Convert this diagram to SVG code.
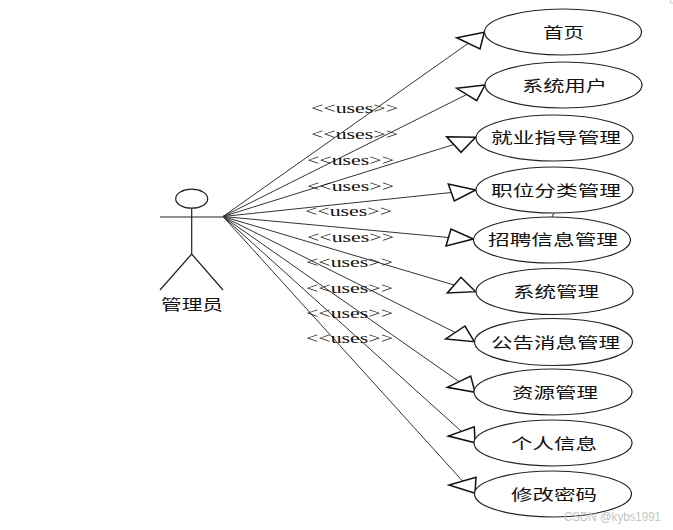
<svg xmlns="http://www.w3.org/2000/svg" width="673" height="530" viewBox="0 0 673 530">
<style>
.n{fill:#fff;stroke:#222;stroke-width:1.2}
.a{fill:none;stroke:#222;stroke-width:1.2}
.c{stroke:#333;stroke-width:1;fill:none}
.h{fill:#fff;stroke:#111;stroke-width:1.5;stroke-linejoin:miter}
.t{font-family:"Noto Sans CJK SC","Liberation Sans",sans-serif;font-size:15px;fill:#111}
.u{font-family:"Liberation Serif",serif;font-size:14px;fill:#111}
.w{font-family:"Liberation Sans",sans-serif;font-size:12px;fill:#c4c4c4}
</style>
<rect width="673" height="530" fill="#fff"/>
<g id="connectors">
<path class="c" d="M223 216.500L468.300 43.300M223 216.500L466.700 94.500M223 216.500L453.800 144.500M223 216.500L451.300 192.500M223 216.500L448.500 237.500M223 216.500L454 285M223 216.500L455.300 332.500M223 216.500L459 381.600M223 216.500L461.300 431.300M223 216.500L462.500 481"/>
<polygon class="h" points="484.300,32.300 456.700,37.700 480,49"/>
<polygon class="h" points="485,85 456.700,88.300 476.700,100.700"/>
<polygon class="h" points="475.700,137.300 446.700,136.700 461,152.300"/>
<polygon class="h" points="475.700,190 448.300,184 454.300,201"/>
<polygon class="h" points="473.300,239 451,229 446,246"/>
<polygon class="h" points="475.700,291.700 461,277.300 447.300,293"/>
<polygon class="h" points="474.300,341.700 465,326 445.700,339"/>
<polygon class="h" points="475,392.300 470.700,376 447.300,387.300"/>
<polygon class="h" points="475,442.700 474.300,426.700 448.300,436"/>
<polygon class="h" points="475,493.300 476,477.300 449,485"/>
<path class="c" d="M552 217L554 213"/>
<g class="u">
<text x="311" y="112.500" textLength="87" lengthAdjust="spacingAndGlyphs">&lt;&lt;uses&gt;&gt;</text>
<text x="311" y="138.500" textLength="87" lengthAdjust="spacingAndGlyphs">&lt;&lt;uses&gt;&gt;</text>
<text x="307" y="164.500" textLength="87" lengthAdjust="spacingAndGlyphs">&lt;&lt;uses&gt;&gt;</text>
<text x="307" y="190.500" textLength="87" lengthAdjust="spacingAndGlyphs">&lt;&lt;uses&gt;&gt;</text>
<text x="305" y="215.500" textLength="87" lengthAdjust="spacingAndGlyphs">&lt;&lt;uses&gt;&gt;</text>
<text x="307" y="241.500" textLength="87" lengthAdjust="spacingAndGlyphs">&lt;&lt;uses&gt;&gt;</text>
<text x="306" y="266.500" textLength="87" lengthAdjust="spacingAndGlyphs">&lt;&lt;uses&gt;&gt;</text>
<text x="306" y="292.500" textLength="87" lengthAdjust="spacingAndGlyphs">&lt;&lt;uses&gt;&gt;</text>
<text x="306" y="317.500" textLength="87" lengthAdjust="spacingAndGlyphs">&lt;&lt;uses&gt;&gt;</text>
<text x="306" y="342.500" textLength="87" lengthAdjust="spacingAndGlyphs">&lt;&lt;uses&gt;&gt;</text>
</g>
</g>
<g id="actor">
<ellipse class="a" cx="191.700" cy="198.700" rx="16" ry="9.500"/>
<path class="a" d="M160 217H223M191.700 208.200V254M191.700 254L160 290M191.700 254L223 290"/>
<text class="t" x="161" y="309.500" textLength="62" lengthAdjust="spacingAndGlyphs">管理员</text>
</g>
<g id="uc1"><ellipse class="n" cx="563" cy="32" rx="78.500" ry="23"/><text class="t" x="543" y="37.500" textLength="41" lengthAdjust="spacingAndGlyphs">首页</text></g>
<g id="uc2"><ellipse class="n" cx="563.500" cy="85" rx="78.500" ry="23"/><text class="t" x="522" y="90.500" textLength="85" lengthAdjust="spacingAndGlyphs">系统用户</text></g>
<g id="uc3"><ellipse class="n" cx="554.500" cy="138" rx="78.500" ry="23"/><text class="t" x="491" y="143" textLength="130" lengthAdjust="spacingAndGlyphs">就业指导管理</text></g>
<g id="uc4"><ellipse class="n" cx="554.500" cy="190" rx="78.500" ry="23"/><text class="t" x="491" y="195.500" textLength="130" lengthAdjust="spacingAndGlyphs">职位分类管理</text></g>
<g id="uc5"><ellipse class="n" cx="552" cy="240" rx="78.500" ry="23"/><text class="t" x="488" y="244.500" textLength="130" lengthAdjust="spacingAndGlyphs">招聘信息管理</text></g>
<g id="uc6"><ellipse class="n" cx="554.500" cy="291.500" rx="78.500" ry="23"/><text class="t" x="513" y="296.500" textLength="86" lengthAdjust="spacingAndGlyphs">系统管理</text></g>
<g id="uc7"><ellipse class="n" cx="553.500" cy="342" rx="79" ry="23.500"/><text class="t" x="491" y="347.500" textLength="129" lengthAdjust="spacingAndGlyphs">公告消息管理</text></g>
<g id="uc8"><ellipse class="n" cx="553" cy="392" rx="79" ry="23"/><text class="t" x="512" y="397.500" textLength="86" lengthAdjust="spacingAndGlyphs">资源管理</text></g>
<g id="uc9"><ellipse class="n" cx="553" cy="443" rx="79" ry="23"/><text class="t" x="511" y="448.500" textLength="86" lengthAdjust="spacingAndGlyphs">个人信息</text></g>
<g id="uc10"><ellipse class="n" cx="553" cy="494" rx="78.500" ry="23"/><text class="t" x="511" y="499.500" textLength="86" lengthAdjust="spacingAndGlyphs">修改密码</text></g>
<text class="w" x="564" y="521" textLength="97" lengthAdjust="spacingAndGlyphs">CSDN @kybs1991</text>
<path d="M670.500 0V3H673" fill="none" stroke="#ccc" stroke-width="1"/>
</svg>
